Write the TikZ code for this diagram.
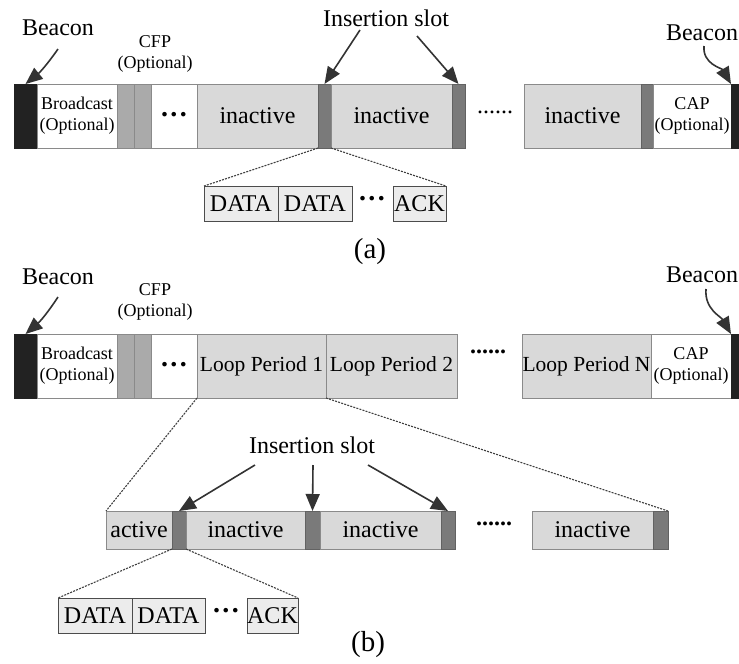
\documentclass[tikz,border=0pt]{standalone}
\usepackage{fontspec}
\setmainfont{Liberation Serif}
\usetikzlibrary{arrows.meta}
\definecolor{beac}{HTML}{222222}
\definecolor{cfpc}{HTML}{AAAAAA}
\definecolor{slotc}{HTML}{7A7A7A}
\definecolor{inac}{HTML}{D9D9D9}
\definecolor{datac}{HTML}{ECECEC}
\definecolor{edgec}{HTML}{8A8A8A}
\definecolor{arrc}{HTML}{333333}
\newcommand\bdots{\textbf{.\hspace{2.5pt}.\hspace{2.5pt}.}}
\tikzset{
  seg/.style={draw=edgec, line width=1pt, inner sep=0pt, anchor=north west, outer sep=0pt},
  beaconbox/.style={seg, fill=beac, draw=beac},
  whitebox/.style={seg, fill=white},
  cfpbox/.style={seg, fill=cfpc},
  slotbox/.style={seg, fill=slotc, draw=slotc!80!black},
  inbox/.style={seg, fill=inac},
  databox/.style={seg, fill=datac, draw=black!70},
  big/.style={font=\fontsize{24}{27}\selectfont},
  dotfont/.style={font=\fontsize{28}{30}\selectfont},
  huge/.style={font=\fontsize{29}{32}\selectfont},
  mid/.style={font=\fontsize{21.5}{24}\selectfont},
  small/.style={font=\fontsize{18}{21}\selectfont, align=center},
  lbl/.style={inner sep=0pt},
  pointer/.style={draw=arrc, line width=1.6pt, -{Triangle[length=17pt,width=14pt]}},
  zoomline/.style={draw=black!75, line width=1.1pt, dash pattern=on 2pt off 1.2pt},
}
\begin{document}
\begin{tikzpicture}[x=1pt,y=-1pt]
\useasboundingbox (0,0) rectangle (739,664);

% ---------------- (a) ----------------
\node[beaconbox, minimum width=23, minimum height=64] (bA) at (14,84) {};
\node[whitebox, minimum width=80, minimum height=64, small] (bcA) at (37,84) {Broadcast\\(Optional)};
\node[cfpbox, minimum width=17, minimum height=64] (c1A) at (117,84) {};
\node[cfpbox, minimum width=17, minimum height=64] (c2A) at (134,84) {};
\node[whitebox, minimum width=46, minimum height=64, dotfont] (dA) at (151,84) {\raisebox{4pt}{\bdots}};
\node[inbox, minimum width=121, minimum height=64, big] (i1A) at (197,84) {inactive};
\node[slotbox, minimum width=13, minimum height=64] (s1A) at (318,84) {};
\node[inbox, minimum width=121, minimum height=64, big] (i2A) at (331,84) {inactive};
\node[slotbox, minimum width=13, minimum height=64] (s2A) at (452,84) {};
\node[big, lbl] (dotsA) at (495,112) {......};
\node[inbox, minimum width=117, minimum height=64, big] (i3A) at (524,84) {inactive};
\node[slotbox, minimum width=12, minimum height=64] (s3A) at (641,84) {};
\node[whitebox, minimum width=78, minimum height=64, small] (capA) at (653,84) {CAP\\(Optional)};
\node[beaconbox, minimum width=12, minimum height=64] (bA2) at (731,84) {};

\node[big, lbl] (beaconA) at (58,28) {Beacon};
\node[big, lbl] (beaconA2) at (702,33) {Beacon};
\node[small, lbl] (cfpA) at (155,54) {CFP\\(Optional)};
\node[big, lbl] (insA) at (386,18) {Insertion slot};

\coordinate (pA1) at (58,49);
\coordinate (pA2) at (704,46);
\coordinate (pA3) at (360,30);
\coordinate (pA4) at (417,36);
\draw[pointer] (pA1) to[bend left=8] (bA.north);
\draw[pointer] (pA2) to[out=-95,in=120] (bA2.north west);
\draw[pointer] (pA3) -- (s1A.north);
\draw[pointer] (pA4) -- (s2A.north);

\node[databox, minimum width=74, minimum height=35, big] (d1A) at (204,186) {DATA};
\node[databox, minimum width=74, minimum height=35, big] (d2A) at (278,186) {DATA};
\node[dotfont, lbl] (ddA) at (372,199) {\bdots};
\node[databox, minimum width=53, minimum height=35, big] (ackA) at (393,186) {ACK};
\draw[zoomline] (s1A.south west) -- (d1A.north west);
\draw[zoomline] (s1A.south east) -- (ackA.north east);

\node[huge, lbl] (capa) at (370,252) {(a)};

% ---------------- (b) ----------------
\node[beaconbox, minimum width=23, minimum height=64] (bB) at (14,334) {};
\node[whitebox, minimum width=80, minimum height=64, small] (bcB) at (37,334) {Broadcast\\(Optional)};
\node[cfpbox, minimum width=17, minimum height=64] (c1B) at (117,334) {};
\node[cfpbox, minimum width=17, minimum height=64] (c2B) at (134,334) {};
\node[whitebox, minimum width=46, minimum height=64, dotfont] (dB) at (151,334) {\raisebox{4pt}{\bdots}};
\node[inbox, minimum width=129, minimum height=64, mid] (l1) at (197,334) {Loop Period 1};
\node[inbox, minimum width=131, minimum height=64, mid] (l2) at (326,334) {Loop Period 2};
\node[big, lbl] (dotsB) at (488,352) {\textbf{......}};
\node[inbox, minimum width=129, minimum height=64, mid] (lN) at (522,334) {Loop Period N};
\node[whitebox, minimum width=80, minimum height=64, small] (capB) at (651,334) {CAP\\(Optional)};
\node[beaconbox, minimum width=12, minimum height=64] (bB2) at (731,334) {};

\node[big, lbl] (beaconB) at (58,277) {Beacon};
\node[big, lbl] (beaconB2) at (702,275) {Beacon};
\node[small, lbl] (cfpB) at (155,302) {CFP\\(Optional)};

\coordinate (pB1) at (58,297);
\coordinate (pB2) at (706,289);
\draw[pointer] (pB1) to[bend left=8] (bB.north);
\draw[pointer] (pB2) to[out=-95,in=120] (bB2.north west);

% lower bar
\node[inbox, minimum width=66, minimum height=38, big] (act) at (106,511) {active};
\node[slotbox, minimum width=14, minimum height=38] (ls1) at (172,511) {};
\node[inbox, minimum width=119, minimum height=38, big] (li1) at (186,511) {inactive};
\node[slotbox, minimum width=15, minimum height=38] (ls2) at (305,511) {};
\node[inbox, minimum width=121, minimum height=38, big] (li2) at (320,511) {inactive};
\node[slotbox, minimum width=14, minimum height=38] (ls3) at (441,511) {};
\node[big, lbl] (dotsC) at (494,524) {\textbf{......}};
\node[inbox, minimum width=121, minimum height=38, big] (li3) at (532,511) {inactive};
\node[slotbox, minimum width=15, minimum height=38] (ls4) at (653,511) {};

\draw[zoomline] (l1.south west) -- (act.north west);
\draw[zoomline] (l1.south east) -- (ls4.north east);

\node[big, lbl] (insB) at (312,445) {Insertion slot};
\coordinate (qB1) at (255,465);
\coordinate (qB2) at (313,465);
\coordinate (qB3) at (368,465);
\draw[pointer] (qB1) -- (ls1.north);
\draw[pointer] (qB2) -- (ls2.north);
\draw[pointer] (qB3) -- (ls3.north);

\node[databox, minimum width=74, minimum height=35, big] (d1B) at (58,598) {DATA};
\node[databox, minimum width=73, minimum height=35, big] (d2B) at (132,598) {DATA};
\node[dotfont, lbl] (ddB) at (226,611) {\bdots};
\node[databox, minimum width=51, minimum height=35, big] (ackB) at (247,598) {ACK};
\draw[zoomline] (ls1.south west) -- (d1B.north west);
\draw[zoomline] (ls1.south east) -- (ackB.north east);

\node[huge, lbl] (capb) at (368,645) {(b)};
\end{tikzpicture}
\end{document}
